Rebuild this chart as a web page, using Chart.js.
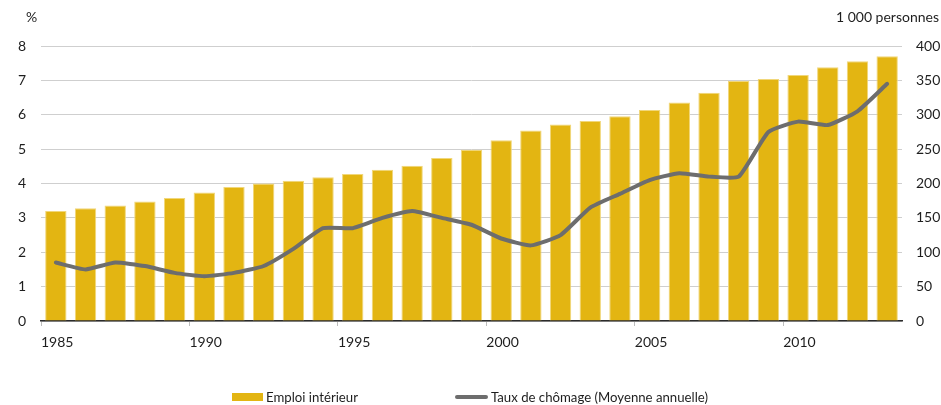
<!DOCTYPE html>
<html>
<head>
<meta charset="utf-8">
<script src="https://cdn.jsdelivr.net/npm/chart.js@4.4.1/dist/chart.umd.min.js"></script>
<style>
  html, body { margin: 0; padding: 0; background: #fff; }
  #wrap { position: relative; width: 941px; height: 405px; font-family: Lato, sans-serif; color: #1e1e1e; }
  canvas { position: absolute; left: 0; top: 0; }
  .unit { position: absolute; font-size: 14px; top: 8px; }
  .legend { position: absolute; top: 389px; font-size: 13.2px; display: flex; align-items: center; }
  .sw-bar { width: 31px; height: 8px; background: #e3b512; margin-right: 3px; }
  .sw-line { width: 33px; height: 4px; border-radius: 2px; background: #6d6d6d; margin-right: 3px; }
</style>
</head>
<body>
<div id="wrap">
  <canvas id="chart" width="941" height="405"></canvas>
  <div class="unit" style="left:26px">%</div>
  <div class="unit" style="right:2px">1 000 personnes</div>
  <div class="legend" style="left:232px"><span class="sw-bar"></span>Emploi intérieur</div>
  <div class="legend" style="left:455px"><span class="sw-line"></span>Taux de chômage (Moyenne annuelle)</div>
</div>
<script>
/* ---- données ---- */
const annees = ["1985","1986","1987","1988","1989","1990","1991","1992","1993","1994",
                "1995","1996","1997","1998","1999","2000","2001","2002","2003","2004",
                "2005","2006","2007","2008","2009","2010","2011","2012","2013"];

// Emploi intérieur, 1 000 personnes (axe droit)
const emploiInterieur = [160, 164, 168, 174, 179, 187, 195, 200, 204, 209,
                         214, 220, 226, 237, 249, 263, 277, 286, 291, 298,
                         307, 318, 332, 349, 352, 358, 369, 378, 385];

// Taux de chômage, moyenne annuelle en % (axe gauche)
const tauxChomage = [1.7, 1.5, 1.7, 1.6, 1.4, 1.3, 1.4, 1.6, 2.1, 2.7,
                     2.7, 3.0, 3.2, 3.0, 2.8, 2.4, 2.2, 2.5, 3.3, 3.7,
                     4.1, 4.3, 4.2, 4.2, 5.5, 5.8, 5.7, 6.1, 6.9];

const premiereAnnee = 1985;
const derniereBorne = 2014;

const police = { family: "Lato, sans-serif", size: 14 };
const couleurTexte = "#1e1e1e";

new Chart(document.getElementById("chart"), {
    data: {
        labels: annees,
        datasets: [
            {
                type: "line",
                label: "Taux de chômage (Moyenne annuelle)",
                data: tauxChomage,
                yAxisID: "yPct",
                borderColor: "#6d6d6d",
                borderWidth: 4,
                pointRadius: 0,
                tension: 0.15,
                borderCapStyle: "round",
                borderJoinStyle: "round",
                order: 0
            },
            {
                type: "bar",
                label: "Emploi intérieur",
                data: emploiInterieur,
                yAxisID: "yEmp",
                backgroundColor: "#e3b512",
                borderColor: "#f1d77a",
                borderWidth: 1,
                categoryPercentage: 1,
                barPercentage: 0.72,
                order: 1
            }
        ]
    },
    options: {
        responsive: false,
        animation: false,
        layout: { padding: { top: 46, bottom: 54, left: 0, right: 0 } },
        plugins: { legend: { display: false }, tooltip: { enabled: false } },
        scales: {
            x: { type: "category", display: false, offset: true },
            xAnnee: {
                type: "linear",
                position: "bottom",
                min: premiereAnnee,
                max: derniereBorne,
                afterFit: (s) => { s.height = 30; },
                // pas de graduation sur la borne de fin
                afterBuildTicks: (s) => { s.ticks = s.ticks.filter((t) => t.value < derniereBorne); },
                ticks: {
                    stepSize: 5,
                    align: "start",
                    padding: 8,
                    color: couleurTexte,
                    font: police,
                    callback: (v) => String(v)
                },
                grid: { drawOnChartArea: false, drawTicks: true, tickLength: 5, color: "#bdbdbd" },
                border: { display: true, color: "#2b2b2b", width: 1.5 }
            },
            yPct: {
                position: "left",
                min: 0,
                max: 8,
                afterFit: (s) => { s.width = 41; },
                ticks: { stepSize: 1, padding: 15, color: couleurTexte, font: police },
                grid: { color: "#cfcfcf", drawTicks: false, lineWidth: 1 },
                border: { display: false }
            },
            yEmp: {
                position: "right",
                min: 0,
                max: 400,
                afterFit: (s) => { s.width = 39; },
                ticks: { stepSize: 50, padding: 14, color: couleurTexte, font: police },
                grid: { drawOnChartArea: false, drawTicks: false },
                border: { display: false }
            }
        }
    }
});
</script>
</body>
</html>
